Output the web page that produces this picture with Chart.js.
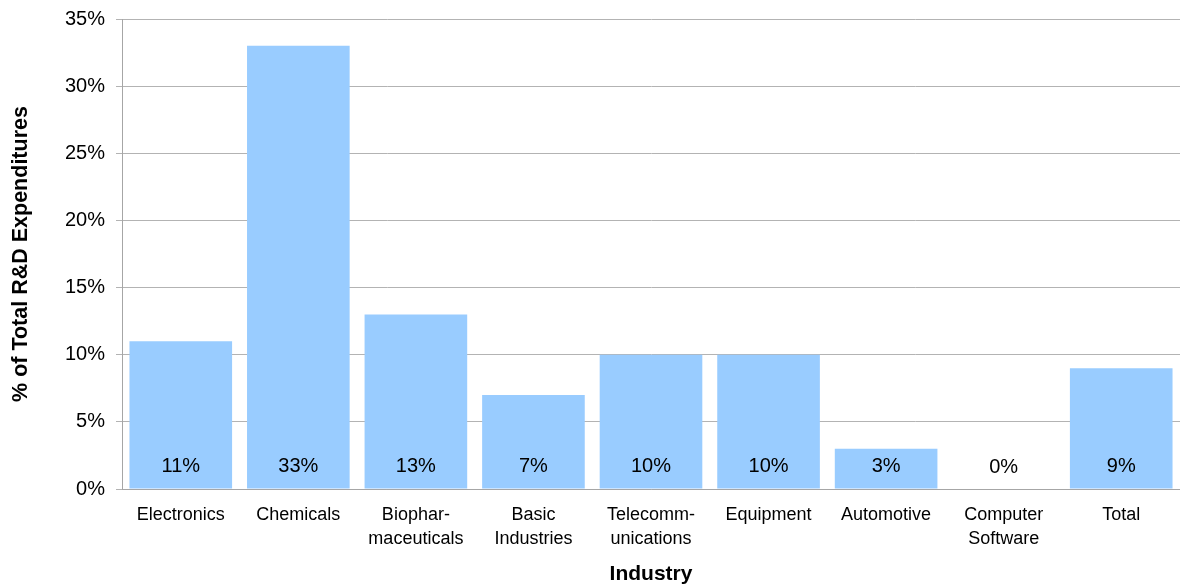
<!DOCTYPE html>
<html>
<head>
<meta charset="utf-8">
<script src="https://cdn.jsdelivr.net/npm/chart.js@4.4.1/dist/chart.umd.min.js"></script>
<style>
  html, body { margin: 0; padding: 0; background: #fff; }
  #wrap { width: 1180px; height: 587px; position: relative; }
</style>
</head>
<body>
<div id="wrap"><canvas id="c" width="1180" height="587"></canvas></div>
<script>
const categories = [
  ['Electronics'],
  ['Chemicals'],
  ['Biophar-', 'maceuticals'],
  ['Basic', 'Industries'],
  ['Telecomm-', 'unications'],
  ['Equipment'],
  ['Automotive'],
  ['Computer', 'Software'],
  ['Total']
];
const shareValues = [11, 33, 13, 7, 10, 10, 3, 0, 9];
const yTickMin = 0;
const yTickMax = 35;
const yTickStep = 5;
const yAxisTitle = '% of Total R&D Expenditures';
const xAxisTitle = 'Industry';

const FONT = "'Liberation Sans', Arial, Helvetica, sans-serif";

const barLabels = {
  id: 'barLabels',
  afterDatasetsDraw(chart) {
    const ctx = chart.ctx;
    const meta = chart.getDatasetMeta(0);
    ctx.save();
    ctx.font = '20px ' + FONT;
    ctx.fillStyle = '#000';
    ctx.textAlign = 'center';
    ctx.textBaseline = 'middle';
    meta.data.forEach((bar, i) => {
      ctx.fillText(shareValues[i] + '%', bar.x, bar.base - 22);
    });
    ctx.restore();
  }
};

new Chart(document.getElementById('c'), {
  type: 'bar',
  data: {
    labels: categories,
    datasets: [{
      data: shareValues,
      backgroundColor: '#99CCFF',
      borderWidth: 0,
      barPercentage: 0.873,
      categoryPercentage: 1.0
    }]
  },
  options: {
    responsive: false,
    animation: false,
    devicePixelRatio: 1,
    layout: { padding: { top: 19, right: 0, left: 0, bottom: 0 } },
    plugins: {
      legend: { display: false },
      tooltip: { enabled: false }
    },
    scales: {
      x: {
        grid: { display: false, drawTicks: false },
        border: { display: true, color: '#a6a6a6', width: 1 },
        ticks: {
          color: '#000',
          font: { family: FONT, size: 18, lineHeight: 1.33 },
          padding: 14,
          maxRotation: 0,
          autoSkip: false
        },
        title: {
          display: true,
          text: xAxisTitle,
          color: '#000',
          font: { family: FONT, size: 21, weight: 'bold' },
          padding: { top: 4, bottom: 0 }
        },
        afterFit(scale) { scale.height = 98; scale.paddingLeft = 0; scale.paddingRight = 0; }
      },
      y: {
        min: yTickMin,
        max: yTickMax,
        grid: { color: '#b3b3b3', lineWidth: 1, drawTicks: true, tickLength: 6 },
        border: { display: true, color: '#a6a6a6', width: 1 },
        ticks: {
          stepSize: yTickStep,
          color: '#000',
          font: { family: FONT, size: 20 },
          padding: 11,
          callback: v => v + '%'
        },
        title: {
          display: true,
          text: yAxisTitle,
          color: '#000',
          font: { family: FONT, size: 21.5, weight: 'bold' },
          padding: { top: 8, bottom: 4 }
        },
        afterFit(scale) { scale.width = 122; scale.paddingTop = 0; scale.paddingBottom = 0; }
      }
    }
  },
  plugins: [barLabels]
});
</script>
</body>
</html>
